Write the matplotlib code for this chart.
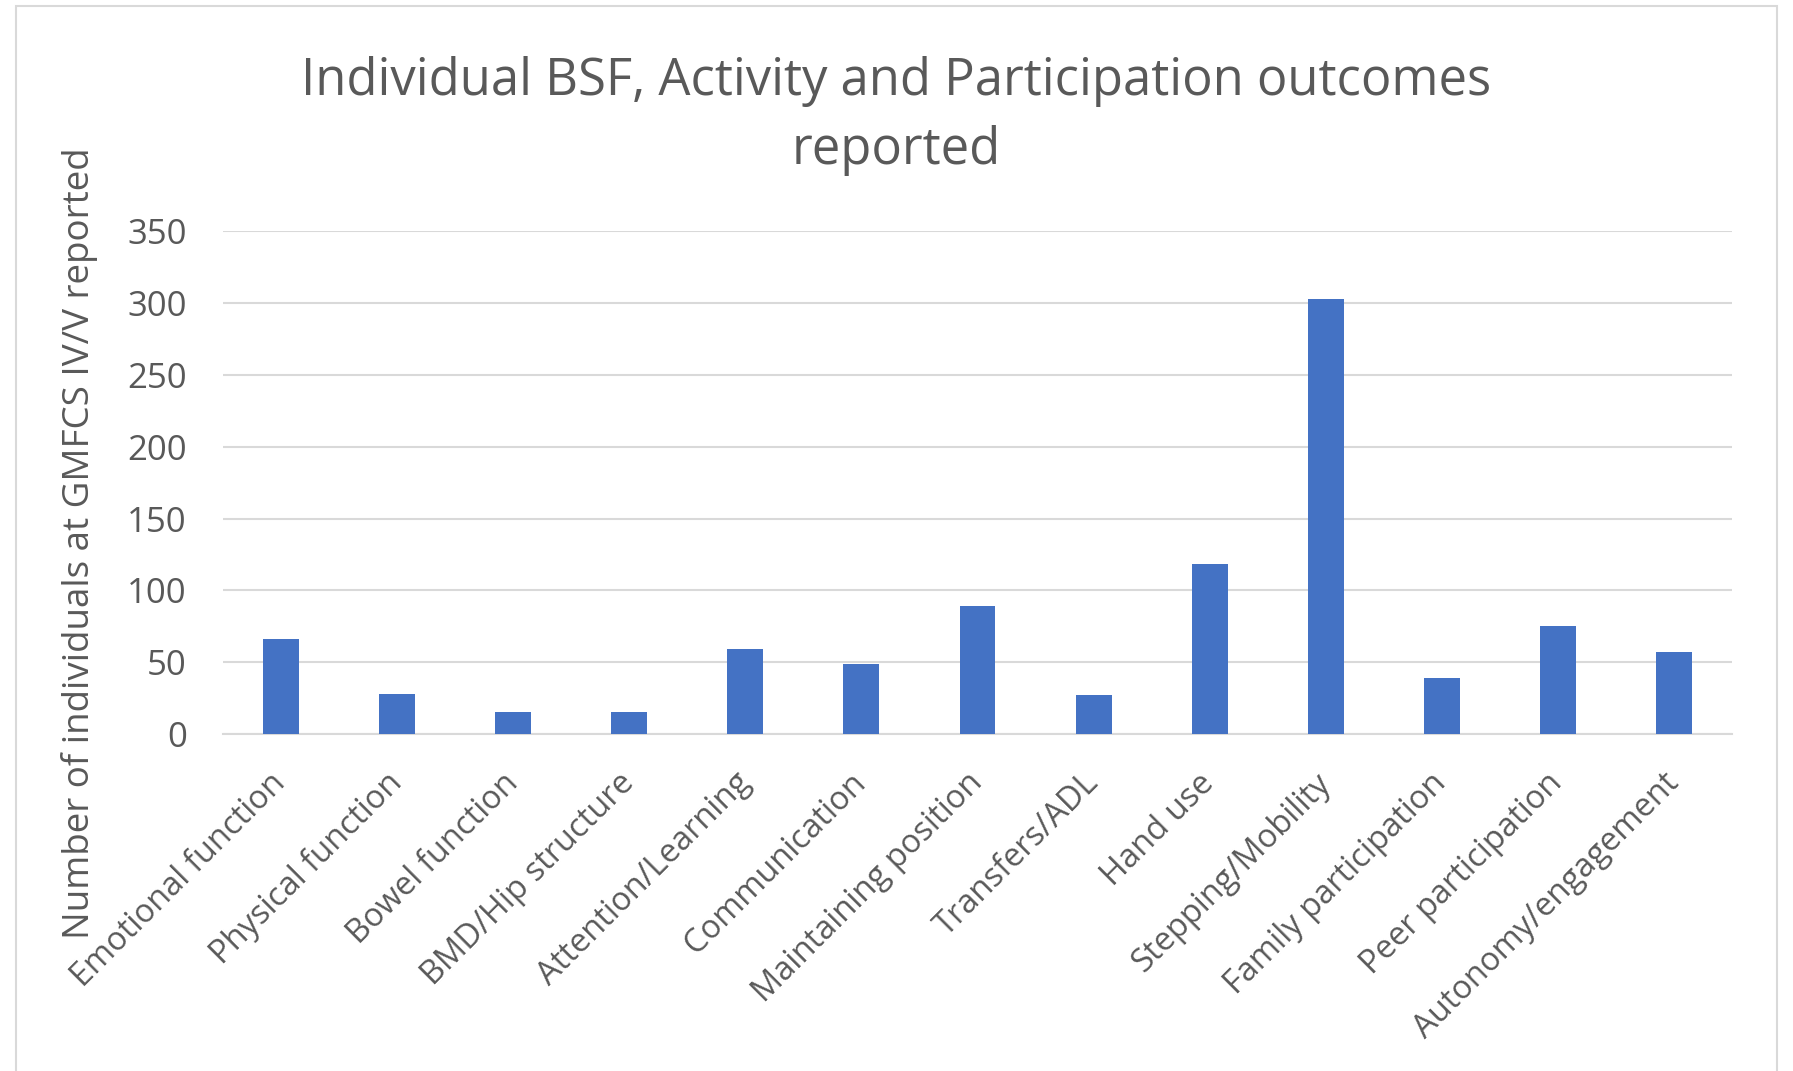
import matplotlib
matplotlib.use("Agg")
import matplotlib.pyplot as plt
from matplotlib.patches import Rectangle

plt.rcParams['font.family'] = ['Open Sans', 'DejaVu Sans']

categories = [
    "Emotional function", "Physical function", "Bowel function",
    "BMD/Hip structure", "Attention/Learning", "Communication",
    "Maintaining position", "Transfers/ADL", "Hand use",
    "Stepping/Mobility", "Family participation", "Peer participation",
    "Autonomy/engagement",
]
counts = [66, 28, 15, 15, 59, 49, 89, 27, 118, 303, 39, 75, 57]
y_ticks = [0, 50, 100, 150, 200, 250, 300, 350]

title = "Individual BSF, Activity and Participation outcomes\nreported"
y_label = "Number of individuals at GMFCS IV/V reported"

bar_color = "#4472C4"
grid_color = "#D9D9D9"
text_color = "#595959"

W, H = 1793, 1071
fig = plt.figure(figsize=(W / 100, H / 100), dpi=100)
fig.patch.set_facecolor("white")

# chart frame
fig.patches.append(Rectangle((16 / W, -0.05), (1777 - 16) / W, 1 - 6 / H + 0.05,
                             transform=fig.transFigure, fill=False,
                             edgecolor="#D9D9D9", linewidth=1.5))

ax = fig.add_axes([223 / W, 1 - 733.9 / H, (1732 - 223) / W, (733.9 - 231.4) / H])
x = range(len(categories))
ax.bar(x, counts, width=0.31, color=bar_color, zorder=3)

ax.set_xlim(-0.5, len(categories) - 0.5)
ax.set_ylim(0, 350)
ax.set_yticks(y_ticks)
ax.set_yticklabels([str(v) for v in y_ticks], fontsize=25, color=text_color)
ax.yaxis.grid(True, color=grid_color, linewidth=1.5, zorder=0)
ax.set_axisbelow(True)
for s in ["top", "right", "left"]:
    ax.spines[s].set_visible(False)
ax.spines["bottom"].set_color(grid_color)
ax.spines["bottom"].set_linewidth(1.5)
ax.tick_params(axis="both", length=0)
ax.tick_params(axis="y", pad=26)

ax.set_xticks(list(x))
ax.set_xticklabels(categories, rotation=45, ha="right", va="center",
                   rotation_mode="anchor", fontsize=23.5, color=text_color)
ax.tick_params(axis="x", pad=32)

fig.text(80 / W, 1 - 543 / H, y_label, rotation=90, ha="center", va="center",
         fontsize=26.5, color=text_color)
fig.text(0.5, 1 - 116 / H, title, ha="center", va="center", fontsize=36.5,
         color=text_color, linespacing=1.45)

fig.savefig("out.png", dpi=100, facecolor="white")
